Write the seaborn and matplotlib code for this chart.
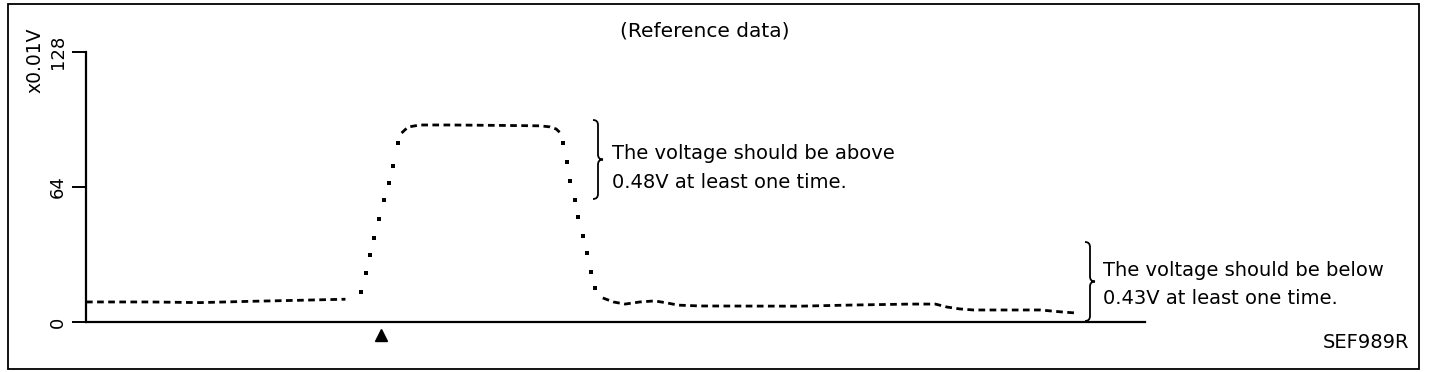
import numpy as np
import pandas as pd
import matplotlib
matplotlib.use("Agg")
import matplotlib.pyplot as plt
from matplotlib.path import Path
from matplotlib.patches import PathPatch, Rectangle
import seaborn as sns

# ---- data (time in arbitrary units 0..100, voltage in x0.01 V) ----
flat_t = [0.0, 6.0, 10.8, 15.5, 20.2, 24.5]
flat_v = [9.5, 9.5, 9.2, 9.8, 10.3, 10.8]

rise_t = [26.0, 26.4, 26.8, 27.2, 27.7, 28.1, 28.6, 29.0, 29.5]
rise_v = [14.2, 23.0, 31.7, 40.0, 49.0, 57.8, 66.0, 74.0, 85.0]

plateau_t = [29.8, 30.4, 31.5, 34.4, 39.1, 42.9, 43.8, 44.4, 44.8]
plateau_v = [89.6, 92.4, 93.4, 93.4, 93.2, 93.0, 92.5, 91.5, 89.6]

fall_t = [45.0, 45.4, 45.7, 46.2, 46.5, 46.9, 47.3, 47.7, 48.1]
fall_v = [85.0, 76.0, 67.0, 58.0, 50.0, 41.0, 32.7, 23.7, 16.0]

tail_t = [48.8, 49.8, 50.9, 52.3, 53.7, 54.9, 55.9, 58.0, 67.4, 71.9, 77.8, 80.2,
          81.3, 82.5, 83.8, 90.1, 92.3, 93.4]
tail_v = [11.4, 9.5, 8.5, 9.5, 10.0, 9.0, 8.0, 7.6, 7.5, 8.0, 8.5, 8.5,
          7.1, 6.2, 5.7, 5.7, 4.7, 4.3]

y_ticks = [0, 64, 128]
y_ticklabels = ["0", "64", "128"]
marker_t = 27.9

title_text = "(Reference data)"
ylabel_text = "x0.01V"
note_above = "The voltage should be above\n0.48V at least one time."
note_below = "The voltage should be below\n0.43V at least one time."
code_text = "SEF989R"

# ---- figure ----
W, H = 1456, 372
sns.set_theme(style="white")
plt.rcParams['font.family'] = ['DejaVu Sans']
fig = plt.figure(figsize=(W / 100, H / 100), dpi=100)
fig.patch.set_facecolor("white")

def fx(px):
    return px / W

def fy(py):
    return 1 - py / H

ax = fig.add_axes([fx(86), fy(322), fx(1145) - fx(86), fy(52) - fy(322)])
ax.set_facecolor("white")

dash_segments = [(flat_t, flat_v), (plateau_t, plateau_v), (tail_t, tail_v)]
for t, v in dash_segments:
    df = pd.DataFrame({"t": t, "v": v})
    sns.lineplot(data=df, x="t", y="v", ax=ax, color="black", lw=2.0,
                 estimator=None, sort=False)
for ln in ax.lines:
    ln.set_dashes([2.4, 1.6])
    ln.set_dash_capstyle("butt")

dots = pd.DataFrame({"t": rise_t + fall_t, "v": rise_v + fall_v})
sns.scatterplot(data=dots, x="t", y="v", ax=ax, color="black", marker="s",
                s=6, linewidth=0)

ax.set_xlim(0, 100)
ax.set_ylim(0, 128)
ax.set_xticks([])
ax.set_yticks(y_ticks)
ax.set_yticklabels(y_ticklabels, rotation=90, va="center", fontsize=13)
ax.tick_params(axis="y", direction="out", length=10, width=1.4, pad=4,
               left=True, colors="black")
ax.set_xlabel("")
ax.set_ylabel("")
for s in ["top", "right"]:
    ax.spines[s].set_visible(False)
for s in ["left", "bottom"]:
    ax.spines[s].set_color("black")
    ax.spines[s].set_linewidth(1.6)

# triangle marker below axis
ax.plot([marker_t], [-6], marker="^", color="black", markersize=9,
        clip_on=False, linestyle="none")

# texts
fs = 14
fig.text(fx(35), fy(60), ylabel_text, rotation=90, ha="center", va="center",
         fontsize=13.5, color="black")
fig.text(fx(705), fy(31), title_text, ha="center", va="center", fontsize=14.5,
         color="black")
fig.text(fx(612), fy(168), note_above, ha="left", va="center", fontsize=fs,
         color="black", linespacing=1.65)
fig.text(fx(1103), fy(284), note_below, ha="left", va="center", fontsize=fs,
         color="black", linespacing=1.6)
fig.text(fx(1409), fy(343), code_text, ha="right", va="center", fontsize=fs,
         color="black")

def brace(x, ytop, ybot, w):
    ym = (ytop + ybot) / 2
    pts = [(x - w, ytop), (x, ytop), (x, ytop + w),
           (x, ym - w), (x, ym), (x + w, ym),
           (x, ym), (x, ym + w),
           (x, ybot - w), (x, ybot), (x - w, ybot)]
    codes = [Path.MOVETO, Path.CURVE3, Path.CURVE3,
             Path.LINETO, Path.CURVE3, Path.CURVE3,
             Path.CURVE3, Path.CURVE3,
             Path.LINETO, Path.CURVE3, Path.CURVE3]
    verts = [(fx(a), fy(b)) for a, b in pts]
    fig.patches.append(PathPatch(Path(verts, codes), transform=fig.transFigure,
                                 fill=False, lw=1.3, edgecolor="black"))

brace(598, 120, 199, 5)
brace(1090, 242, 321, 5)

# outer frame
fig.patches.append(Rectangle((fx(8), fy(369)), fx(1419) - fx(8), fy(4) - fy(369),
                             transform=fig.transFigure, fill=False, lw=1.3,
                             edgecolor="black"))

fig.savefig("out.png", dpi=100, facecolor="white")
